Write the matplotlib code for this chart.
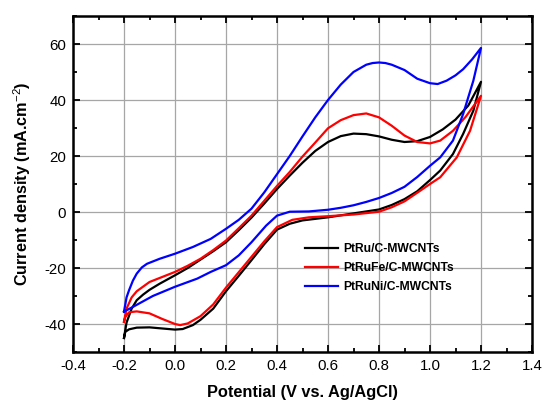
import matplotlib
matplotlib.use('Agg')
import matplotlib.pyplot as plt
from matplotlib.ticker import MultipleLocator

plt.rcParams['font.family'] = ['Liberation Sans', 'DejaVu Sans']
plt.rcParams['mathtext.fontset'] = 'custom'
plt.rcParams['mathtext.rm'] = 'Liberation Sans'
plt.rcParams['mathtext.bf'] = 'Liberation Sans:bold'
plt.rcParams['axes.unicode_minus'] = False

# PtRu/C-MWCNTs: forward (upper) branch, then reverse (lower) branch
ptru_up_x = [-0.2, -0.19, -0.17, -0.15, -0.125, -0.1, -0.06, 0.0, 0.05, 0.1, 0.15, 0.2, 0.25, 0.3,
             0.35, 0.4, 0.45, 0.5, 0.55, 0.6, 0.65, 0.7, 0.75, 0.8, 0.85, 0.9, 0.95, 1.0, 1.05,
             1.1, 1.15, 1.2]
ptru_up_y = [-45.0, -39.5, -34.5, -31.5, -29.5, -27.8, -25.6, -22.6, -20.0, -17.0, -14.0, -10.8,
             -6.5, -2.0, 3.0, 8.2, 13.0, 17.6, 21.8, 25.0, 27.1, 28.0, 27.8, 27.0, 25.8, 25.0,
             25.3, 26.8, 29.5, 33.0, 38.0, 46.5]
ptru_dn_x = [1.2, 1.17, 1.13, 1.09, 1.04, 1.0, 0.95, 0.9, 0.85, 0.8, 0.7, 0.6, 0.5, 0.45, 0.4,
             0.35, 0.3, 0.25, 0.2, 0.15, 0.1, 0.07, 0.03, 0.0, -0.05, -0.1, -0.15, -0.18, -0.195, -0.2]
ptru_dn_y = [46.5, 36.2, 27.9, 20.7, 14.8, 11.4, 7.4, 4.6, 2.5, 0.9, -0.5, -1.9, -3.0, -4.2, -6.3,
             -11.5, -17.2, -22.8, -28.3, -34.5, -38.5, -40.4, -41.8, -42.0, -41.6, -41.2, -41.3,
             -41.9, -42.8, -45.0]

# PtRuFe/C-MWCNTs
ptrufe_up_x = [-0.2, -0.19, -0.17, -0.15, -0.1, -0.05, 0.0, 0.05, 0.1, 0.15, 0.2, 0.25, 0.3, 0.35,
               0.4, 0.45, 0.5, 0.55, 0.6, 0.65, 0.7, 0.75, 0.8, 0.85, 0.9, 0.95, 1.0, 1.04, 1.09,
               1.14, 1.2]
ptrufe_up_y = [-39.2, -34.5, -30.5, -28.3, -25.0, -23.2, -21.4, -19.2, -16.7, -13.6, -10.2, -5.8,
               -1.3, 4.0, 9.3, 14.3, 19.8, 24.8, 29.9, 32.8, 34.6, 35.2, 33.8, 30.8, 27.3, 25.0,
               24.5, 25.5, 29.0, 34.0, 41.5]
ptrufe_dn_x = [1.2, 1.157, 1.105, 1.04, 1.0, 0.96, 0.9, 0.85, 0.8, 0.7, 0.6, 0.525, 0.46, 0.4,
               0.35, 0.3, 0.25, 0.2, 0.15, 0.1, 0.05, 0.02, 0.0, -0.05, -0.1, -0.15, -0.18,
               -0.195, -0.2]
ptrufe_dn_y = [41.5, 29.0, 19.5, 12.4, 10.0, 7.5, 3.8, 1.7, 0.1, -0.9, -1.5, -1.9, -2.8, -5.4,
               -10.5, -16.0, -21.5, -27.0, -33.0, -37.2, -39.8, -40.4, -40.0, -38.2, -36.2, -35.5,
               -35.8, -37.5, -39.2]

# PtRuNi/C-MWCNTs
ptruni_up_x = [-0.2, -0.19, -0.18, -0.165, -0.15, -0.13, -0.11, -0.06, 0.0, 0.07, 0.14, 0.2, 0.25,
               0.3, 0.35, 0.4, 0.45, 0.5, 0.55, 0.6, 0.65, 0.7, 0.75, 0.775, 0.8, 0.825, 0.85,
               0.9, 0.95, 1.0, 1.03, 1.065, 1.1, 1.13, 1.165, 1.2]
ptruni_up_y = [-35.6, -30.5, -27.9, -24.5, -22.0, -19.8, -18.5, -16.7, -14.9, -12.5, -9.6, -6.0,
               -2.8, 1.2, 7.0, 13.5, 20.0, 27.0, 33.8, 40.0, 45.5, 50.0, 52.6, 53.2, 53.4, 53.2,
               52.6, 50.7, 47.6, 46.0, 45.7, 46.9, 48.8, 51.0, 54.5, 58.6]
ptruni_dn_x = [1.2, 1.17, 1.13, 1.09, 1.04, 1.0, 0.95, 0.9, 0.85, 0.8, 0.75, 0.7, 0.65, 0.6,
               0.525, 0.45, 0.4, 0.357, 0.3, 0.25, 0.2, 0.14, 0.087, 0.0, -0.087, -0.153, -0.2]
ptruni_dn_y = [58.6, 46.9, 35.0, 25.5, 19.5, 16.5, 12.5, 9.0, 6.8, 5.0, 3.6, 2.4, 1.5, 0.8, 0.2,
               0.1, -1.3, -4.9, -10.8, -15.5, -19.0, -21.4, -23.8, -26.7, -30.0, -33.3, -35.6]

labels = ['PtRu/C-MWCNTs', 'PtRuFe/C-MWCNTs', 'PtRuNi/C-MWCNTs']
colors = ['#000000', '#ff0000', '#0000ff']

fig = plt.figure(figsize=(5.42, 4.03), dpi=100)
ax = fig.add_axes([73/542, 1-352/403, 459/542, 336/403])

curves = [(ptru_up_x + ptru_dn_x, ptru_up_y + ptru_dn_y),
          (ptrufe_up_x + ptrufe_dn_x, ptrufe_up_y + ptrufe_dn_y),
          (ptruni_up_x + ptruni_dn_x, ptruni_up_y + ptruni_dn_y)]
for (xs, ys), c, l in zip(curves, colors, labels):
    ax.plot(xs, ys, '-', color=c, lw=1.6, label=l, solid_joinstyle='round', zorder=3)

ax.set_xlim(-0.4, 1.4)
ax.set_ylim(-50, 70)
ax.xaxis.set_major_locator(MultipleLocator(0.2))
ax.xaxis.set_minor_locator(MultipleLocator(0.1))
ax.yaxis.set_major_locator(MultipleLocator(20))
ax.yaxis.set_minor_locator(MultipleLocator(10))
ax.xaxis.set_major_formatter(plt.FuncFormatter(lambda v, p: '%.1f' % v))
ax.grid(True, which='major', color='#a6a6a6', lw=0.9, zorder=0)
ax.tick_params(which='both', direction='in', top=True, right=True, labelsize=10.8, width=1.3)
ax.tick_params(which='major', length=5, pad=5)
ax.tick_params(which='minor', length=3)
for s in ax.spines.values():
    s.set_linewidth(1.8)

ax.set_xlabel('Potential (V vs. Ag/AgCl)', fontsize=11.8, fontweight='bold', labelpad=9)
ax.set_ylabel('Current density (mA.cm$^{-2}$)', fontsize=11.7, fontweight='bold', labelpad=8)

ax.legend(loc='upper left', bbox_to_anchor=(0.505, 0.325), frameon=False, borderpad=0,
          borderaxespad=0, handlelength=2.75, handletextpad=0.4, labelspacing=0.6,
          prop={'size': 8.7, 'weight': 'bold'})

fig.savefig('out.png', dpi=100)
